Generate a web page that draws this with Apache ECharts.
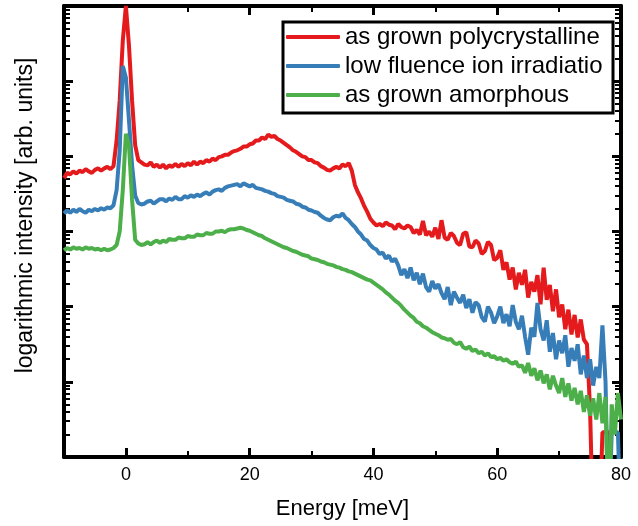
<!DOCTYPE html>
<html>
<head>
<meta charset="utf-8">
<script src="https://cdn.jsdelivr.net/npm/echarts@6/dist/echarts.min.js"></script>
<style>
  html, body { margin: 0; padding: 0; background: #fff; }
  #chart { width: 638px; height: 526px; }
</style>
</head>
<body>
<div id="chart"></div>
<script>
// energy grid in meV (0.5 meV steps)
const energy = [
  -10, -9.5, -9, -8.5, -8, -7.5, -7, -6.5, -6, -5.5,
  -5, -4.5, -4, -3.5, -3, -2.5, -2, -1.5, -1, -0.5,
  0, 0.5, 1, 1.5, 2, 2.5, 3, 3.5, 4, 4.5,
  5, 5.5, 6, 6.5, 7, 7.5, 8, 8.5, 9, 9.5,
  10, 10.5, 11, 11.5, 12, 12.5, 13, 13.5, 14, 14.5,
  15, 15.5, 16, 16.5, 17, 17.5, 18, 18.5, 19, 19.5,
  20, 20.5, 21, 21.5, 22, 22.5, 23, 23.5, 24, 24.5,
  25, 25.5, 26, 26.5, 27, 27.5, 28, 28.5, 29, 29.5,
  30, 30.5, 31, 31.5, 32, 32.5, 33, 33.5, 34, 34.5,
  35, 35.5, 36, 36.5, 37, 37.5, 38, 38.5, 39, 39.5,
  40, 40.5, 41, 41.5, 42, 42.5, 43, 43.5, 44, 44.5,
  45, 45.5, 46, 46.5, 47, 47.5, 48, 48.5, 49, 49.5,
  50, 50.5, 51, 51.5, 52, 52.5, 53, 53.5, 54, 54.5,
  55, 55.5, 56, 56.5, 57, 57.5, 58, 58.5, 59, 59.5,
  60, 60.5, 61, 61.5, 62, 62.5, 63, 63.5, 64, 64.5,
  65, 65.5, 66, 66.5, 67, 67.5, 68, 68.5, 69, 69.5,
  70, 70.5, 71, 71.5, 72, 72.5, 73, 73.5, 74, 74.5,
  75, 75.5, 76, 76.5, 77, 77.5, 78, 78.5, 79, 79.5,
  80
];

// log10 intensity (decades)
const polycrystalline = [
  3.71, 3.78, 3.76, 3.80, 3.77, 3.81, 3.79, 3.83, 3.80, 3.78,
  3.82, 3.84, 3.81, 3.84, 3.86, 3.83, 3.87, 4.21, 4.74, 5.54,
  6.00, 5.47, 4.74, 4.15, 3.95, 3.92, 3.89, 3.88, 3.92, 3.86,
  3.89, 3.85, 3.89, 3.84, 3.88, 3.86, 3.90, 3.86, 3.90, 3.87,
  3.91, 3.88, 3.93, 3.89, 3.93, 3.91, 3.95, 3.93, 3.97, 3.95,
  3.99, 4.00, 4.02, 4.02, 4.05, 4.07, 4.08, 4.10, 4.13, 4.13,
  4.16, 4.17, 4.21, 4.21, 4.25, 4.23, 4.29, 4.26, 4.27, 4.23,
  4.21, 4.18, 4.15, 4.12, 4.08, 4.06, 4.03, 4.00, 3.99, 3.95,
  3.95, 3.92, 3.91, 3.87, 3.85, 3.82, 3.81, 3.84, 3.86, 3.84,
  3.89, 3.87, 3.91, 3.81, 3.62, 3.52, 3.44, 3.34, 3.26, 3.17,
  3.12, 3.08, 3.10, 3.07, 3.12, 3.09, 3.08, 3.03, 3.10, 3.06,
  3.04, 3.08, 3.06, 2.98, 3.02, 2.96, 3.14, 2.95, 3.00, 2.93,
  3.05, 2.90, 3.15, 2.92, 2.89, 2.98, 2.94, 2.85, 2.82, 2.97,
  2.99, 2.80, 2.79, 2.88, 2.84, 2.70, 2.74, 2.86, 2.82, 2.62,
  2.65, 2.75, 2.49, 2.59, 2.36, 2.52, 2.23, 2.45, 2.29, 2.49,
  2.12, 2.33, 2.20, 2.42, 2.03, 2.52, 2.09, 2.29, 1.94, 2.23,
  1.86, 2.03, 1.70, 1.96, 1.63, 1.89, 1.59, 1.83, 1.56, 1.50,
  0.64, -1, -1, -1, 0.33, 0.33, 0.33, -1, -1, -1,
  -1
];

const lowFluence = [
  3.24, 3.28, 3.25, 3.29, 3.26, 3.30, 3.27, 3.25, 3.29, 3.27,
  3.30, 3.28, 3.31, 3.29, 3.32, 3.31, 3.35, 3.55, 4.08, 5.20,
  5.05, 4.48, 3.88, 3.48, 3.38, 3.36, 3.37, 3.40, 3.41, 3.37,
  3.40, 3.43, 3.43, 3.40, 3.44, 3.42, 3.46, 3.43, 3.43, 3.47,
  3.45, 3.48, 3.46, 3.49, 3.47, 3.50, 3.52, 3.49, 3.53, 3.55,
  3.56, 3.54, 3.58, 3.60, 3.61, 3.62, 3.63, 3.60, 3.64, 3.62,
  3.60, 3.62, 3.58, 3.57, 3.56, 3.54, 3.53, 3.51, 3.50, 3.47,
  3.46, 3.45, 3.42, 3.41, 3.40, 3.37, 3.36, 3.33, 3.32, 3.29,
  3.28, 3.26, 3.25, 3.21, 3.18, 3.16, 3.15, 3.19, 3.21, 3.20,
  3.24, 3.18, 3.15, 3.10, 3.06, 3.00, 2.96, 2.90, 2.88, 2.82,
  2.78, 2.76, 2.70, 2.72, 2.64, 2.68, 2.60, 2.64, 2.55, 2.42,
  2.50, 2.38, 2.52, 2.35, 2.45, 2.30, 2.44, 2.26, 2.20, 2.34,
  2.24, 2.30, 2.18, 2.10, 2.26, 2.02, 2.20, 2.12, 2.05, 2.16,
  1.98, 2.10, 1.92, 2.06, 2.02, 1.86, 1.80, 2.00, 1.92, 1.78,
  1.87, 2.00, 1.78, 1.90, 1.74, 2.02, 1.80, 1.70, 1.88, 1.60,
  1.36, 1.72, 1.60, 2.05, 1.70, 1.55, 1.82, 1.40, 1.65, 1.30,
  1.55, 1.38, 1.62, 1.20, 1.45, 1.28, 1.50, 1.10, 1.35, 1.05,
  1.30, 0.95, 1.20, 1.05, 1.75, 1.00, -1, 0.33, 0.33, 0.33,
  -1
];

const amorphous = [
  2.75, 2.78, 2.76, 2.79, 2.77, 2.78, 2.76, 2.79, 2.77, 2.78,
  2.76, 2.77, 2.75, 2.77, 2.75, 2.76, 2.78, 2.82, 3.00, 3.55,
  4.30, 4.15, 3.42, 2.89, 2.84, 2.82, 2.83, 2.86, 2.83, 2.86,
  2.88, 2.85, 2.88, 2.86, 2.90, 2.89, 2.89, 2.92, 2.91, 2.91,
  2.94, 2.93, 2.93, 2.96, 2.95, 2.95, 2.98, 2.97, 2.97, 3.00,
  3.00, 3.01, 2.99, 3.02, 3.03, 3.03, 3.04, 3.05, 3.04, 3.02,
  3.01, 2.99, 2.97, 2.95, 2.94, 2.91, 2.89, 2.87, 2.85, 2.83,
  2.81, 2.79, 2.78, 2.76, 2.74, 2.73, 2.71, 2.69, 2.68, 2.67,
  2.64, 2.63, 2.62, 2.60, 2.59, 2.57, 2.56, 2.55, 2.53, 2.52,
  2.50, 2.49, 2.47, 2.46, 2.44, 2.42, 2.40, 2.38, 2.36, 2.35,
  2.32, 2.29, 2.26, 2.23, 2.19, 2.16, 2.12, 2.08, 2.05, 2.01,
  1.96, 1.92, 1.88, 1.85, 1.80, 1.78, 1.74, 1.72, 1.69, 1.66,
  1.64, 1.62, 1.59, 1.58, 1.56, 1.57, 1.52, 1.50, 1.53, 1.46,
  1.44, 1.47, 1.41, 1.43, 1.38, 1.40, 1.35, 1.38, 1.33, 1.34,
  1.30, 1.32, 1.28, 1.30, 1.26, 1.24, 1.27, 1.20, 1.22, 1.12,
  1.25, 1.08, 1.18, 1.02, 1.15, 0.98, 1.10, 0.90, 1.08, 0.95,
  0.85, 1.05, 0.80, 0.98, 0.75, 0.92, 0.70, 0.88, 0.60, 0.82,
  0.55, 0.78, 0.50, 0.85, 0.45, 0.80, -1, 0.70, 0.30, 0.85,
  0.50
];

const seriesNames = ["as grown polycrystalline", "low fluence ion irradiation", "as grown amorphous"];
const colors = ["#e41a1c", "#377eb8", "#4daf4a"];
const xMajor = [0, 20, 40, 60, 80];
const xMinor = [10, 30, 50, 70];
const decades = [0, 1, 2, 3, 4, 5];
const yMinor = [];
decades.forEach((d) => {
  for (let k = 2; k <= 9; k++) yMinor.push(d + Math.log10(k));
});

const font = "'Liberation Sans', Arial, sans-serif";
const chart = echarts.init(document.getElementById("chart"));

const line = { onZero: false, lineStyle: { color: "#000", width: 4 } };
const noLine = { show: false, onZero: false };
const bigTick = { inside: true, length: 9, lineStyle: { color: "#000", width: 3 } };
const smallTick = { inside: true, length: 6, lineStyle: { color: "#000", width: 2 } };

function xAx(pos, major, withLabels) {
  return {
    type: "value", min: -10, max: 80, position: pos,
    axisLine: major ? line : noLine,
    axisTick: Object.assign({}, major ? bigTick : smallTick, { customValues: major ? xMajor : xMinor }),
    axisLabel: withLabels
      ? { customValues: xMajor, fontSize: 18, color: "#000", fontFamily: font, margin: 9 }
      : { show: false },
    splitLine: { show: false },
  };
}

function yAx(pos, major) {
  const ax = {
    type: "value", min: 0, max: 6, position: pos,
    axisLine: major ? line : noLine,
    axisLabel: { show: false },
    splitLine: { show: false },
  };
  if (major) {
    ax.interval = 1;
    ax.axisTick = bigTick;
  } else {
    ax.axisTick = Object.assign({}, smallTick, { customValues: yMinor });
  }
  return ax;
}

const xBottom = xAx("bottom", true, true);
xBottom.name = "Energy [meV]";
xBottom.nameLocation = "middle";
xBottom.nameGap = 41;
xBottom.nameTextStyle = { fontSize: 22, color: "#000", fontFamily: font };

const yLeft = yAx("left", true);
yLeft.name = "logarithmic intensity [arb. units]";
yLeft.nameLocation = "middle";
yLeft.nameGap = 27;
yLeft.nameTextStyle = { fontSize: 23, color: "#000", fontFamily: font, padding: [0, 0, 0, 32] };

const curves = [polycrystalline, lowFluence, amorphous];

chart.setOption({
  animation: false,
  grid: { left: 64, right: 17, top: 6, bottom: 69 },
  legend: {
    data: seriesNames,
    orient: "vertical",
    left: 283,
    top: 22,
    padding: [3, 2, 6, 3],
    itemGap: 5,
    itemWidth: 54,
    itemHeight: 4,
    icon: "roundRect",
    borderColor: "#000",
    borderWidth: 3,
    backgroundColor: "#fff",
    textStyle: {
      fontSize: 24, lineHeight: 24, color: "#000", fontFamily: font,
      width: 266, overflow: "truncate", ellipsis: "",
    },
  },
  xAxis: [xBottom, xAx("bottom", false, false), xAx("top", true, false), xAx("top", false, false)],
  yAxis: [yLeft, yAx("left", false), yAx("right", true), yAx("right", false)],
  series: curves.map((vals, i) => ({
    name: seriesNames[i],
    type: "line",
    xAxisIndex: 0,
    yAxisIndex: 0,
    showSymbol: false,
    color: colors[i],
    lineStyle: { width: 4, color: colors[i] },
    data: energy.map((e, j) => [e, vals[j]]),
  })),
});
</script>
</body>
</html>
